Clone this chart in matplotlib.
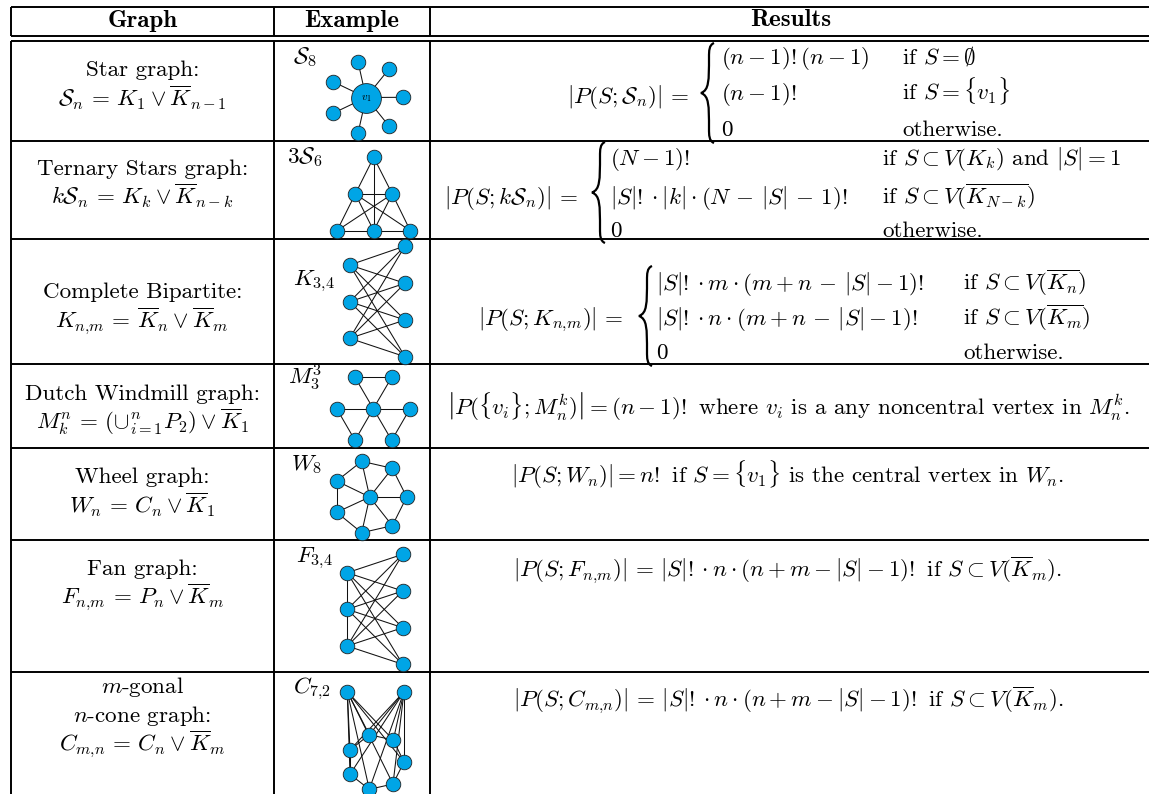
import matplotlib
matplotlib.use("Agg")
import matplotlib.pyplot as plt
from matplotlib.path import Path
from matplotlib.patches import PathPatch

plt.rcParams['mathtext.fontset'] = 'cm'
plt.rcParams['font.family'] = ['cmr10']
plt.rcParams['axes.unicode_minus'] = False

BLUE = '#00a5e6'
FS = 16.6

# Table text
headers = ['Graph', 'Example', 'Results']
header_x = [142.3, 352, 791]
graph_names = [
    ['Star graph:', r'$\mathcal{S}_n\,=\,K_1\vee\overline{K}_{n-1}$'],
    ['Ternary Stars graph:', r'$k\mathcal{S}_n\,=\,K_k\vee\overline{K}_{n-k}$'],
    ['Complete Bipartite:', r'$K_{n{,}m}\,=\,\overline{K}_n\vee\overline{K}_m$'],
    ['Dutch Windmill graph:', r'$M_k^n\,=\,(\cup_{i=1}^n P_2)\vee\overline{K}_1$'],
    ['Wheel graph:', r'$W_n\,=\,C_n\vee\overline{K}_1$'],
    ['Fan graph:', r'$F_{n{,}m}\,=\,P_n\vee\overline{K}_m$'],
    ['$m$-gonal', '$n$-cone graph:', r'$C_{m{,}n}\,=\,C_n\vee\overline{K}_m$'],
]
name_baselines = [[76, 106], [175, 204], [298, 328], [400, 429], [483, 513], [575, 604], [693, 722, 751]]
example_labels = [r'$\mathcal{S}_8$', r'$3\mathcal{S}_6$', r'$K_{3{,}4}$', r'$M_3^3$', r'$W_8$', r'$F_{3{,}4}$', r'$C_{7{,}2}$']
example_pos = [(293, 63), (287, 163), (293, 285), (288, 385), (291, 470), (296, 562), (293, 693)]

single_results = [
    (r'$\left|P(\{v_i\};M_n^k)\right|=(n-1)!$ where $v_i$ is a any noncentral vertex in $M_n^k$.', 415),
    (r'$|P(S;W_n)|=n!$ if $S=\{v_1\}$ is the central vertex in $W_n$.', 483),
    (r'$|P(S;F_{n{,}m})|\,=\,|S|!\cdot n\cdot(n+m-|S|-1)!$ if $S\subset V(\overline{K}_m)$.', 577),
    (r'$|P(S;C_{m{,}n})|\,=\,|S|!\cdot n\cdot(n+m-|S|-1)!$ if $S\subset V(\overline{K}_m)$.', 707),
]

cases_lhs = [r'$|P(S;\mathcal{S}_n)|\,=$', r'$|P(S;k\mathcal{S}_n)|\,=$', r'$|P(S;K_{n{,}m})|\,=$']
lhs_baselines = [103, 204, 325]
cases_left = [
    [r'$(n-1)!(n-1)$', r'$(n-1)!$', r'$0$'],
    [r'$(N-1)!$', r'$|S|!\cdot|k|\cdot(N\,-\,|S|\,-\,1)!$', r'$0$'],
    [r'$|S|!\cdot m\cdot(m+n\,-\,|S|-1)!$', r'$|S|!\cdot n\cdot(m+n\,-\,|S|-1)!$', r'$0$'],
]
cases_right = [
    [r'if $S=\emptyset$', r'if $S=\{v_1\}$', 'otherwise.'],
    [r'if $S\subset V(K_k)$ and $|S|=1$', r'if $S\subset V(\overline{K_{N-k}})$', 'otherwise.'],
    [r'if $S\subset V(\overline{K_n})$', r'if $S\subset V(\overline{K_m})$', 'otherwise.'],
]
cases_baselines = [[64, 100, 136], [165, 204, 237], [290, 325, 359]]
cases_x = [(567, 709, 721, 902), (444, 600, 610, 882), (478, 647, 656, 963)]
brace_spans = [(43, 143), (142, 243), (266, 366)]

# Table rules
h_rules = [7, 35.5, 41, 140.5, 238.5, 364, 448, 540, 672]
v_rules = [11, 273.7, 430]

star_nodes = [(366, 97.5), (358, 61.7), (389, 69), (403.3, 97.3), (389, 126), (358, 133.3), (333, 113.3), (333, 81.7)]
star_edges = [(0, i) for i in range(1, 8)]

ternary_nodes = [(373.7, 157.3), (355.3, 194), (392.3, 194), (337, 230.7), (373.7, 230.7), (410.3, 230.7)]
ternary_edges = [(0, 1), (0, 2), (0, 4), (1, 2), (1, 3), (1, 4), (1, 5), (2, 3), (2, 4), (2, 5), (3, 4), (4, 5)]

bip_nodes = [(349.7, 265), (349.7, 301.7), (349.7, 338.3), (405, 246), (405, 283.3), (405, 320), (405, 356.7)]
bip_edges = [(a, b) for a in range(3) for b in range(3, 7)]

mill_nodes = [(355, 377.3), (391.7, 377.3), (336.7, 408.7), (373.3, 408.7), (410, 408.7), (355, 440.3), (391.7, 440.3)]
mill_edges = [(0, 1), (0, 3), (1, 3), (2, 3), (3, 4), (2, 5), (3, 5), (3, 6), (4, 6)]

wheel_nodes = [(369.7, 497), (361.7, 461.3), (392.3, 468.3), (406.7, 497), (392.3, 525.7), (361.7, 532.7), (336.7, 512.3), (336.7, 481)]
wheel_edges = [(0, i) for i in range(1, 8)] + [(1, 2), (2, 3), (3, 4), (4, 5), (5, 6), (6, 7), (7, 1)]

fan_nodes = [(347.3, 572.7), (347.3, 609.3), (347.3, 646), (402.7, 554.3), (402.7, 591), (402.7, 627.7), (402.7, 664.3)]
fan_edges = [(0, 1), (1, 2)] + [(a, b) for a in range(3) for b in range(3, 7)]

cone_nodes = [(347.3, 691.7), (404, 691.7), (350, 750), (369.3, 734.7), (393.3, 740), (404, 762), (393, 784), (369.3, 789.3), (350, 774.3)]
cone_edges = [(2, 3), (3, 4), (4, 5), (5, 6), (6, 7), (7, 8), (8, 2)] + [(a, b) for a in range(2) for b in range(2, 9)]

graphs = [
    (star_nodes, star_edges),
    (ternary_nodes, ternary_edges),
    (bip_nodes, bip_edges),
    (mill_nodes, mill_edges),
    (wheel_nodes, wheel_edges),
    (fan_nodes, fan_edges),
    (cone_nodes, cone_edges),
]


def draw_graph(ax, nodes, edges):
    for a, b in edges:
        ax.plot([nodes[a][0], nodes[b][0]], [nodes[a][1], nodes[b][1]], color='#111111', lw=0.75, zorder=2)
    xs = [n[0] for n in nodes]
    ys = [n[1] for n in nodes]
    ax.scatter(xs, ys, s=110, color=BLUE, edgecolor='#222222', linewidth=0.6, zorder=3)


def draw_brace(ax, x, y0, y1):
    # left curly brace, tip pointing left
    mid = (y0 + y1) / 2
    verts = [(x + 5, y0), (x, y0 + 2), (x, y0 + 8), (x, y0 + 14),
             (x, mid - 12), (x, mid - 3), (x - 8, mid),
             (x, mid + 3), (x, mid + 12), (x, y1 - 14),
             (x, y1 - 8), (x, y1 - 2), (x + 5, y1)]
    codes = [Path.MOVETO] + [Path.CURVE4] * 12
    ax.add_patch(PathPatch(Path(verts, codes), fc='none', ec='black', lw=1.6, zorder=4))


fig = plt.figure(figsize=(11.49, 7.94), dpi=100)
ax = fig.add_axes([0, 0, 1, 1])
ax.set_xlim(0, 1149)
ax.set_ylim(794, 0)
ax.axis('off')

# rules
for y in h_rules:
    ax.plot([11, 1149], [y, y], color='black', lw=1.4, solid_capstyle='butt', zorder=1)
for x in v_rules:
    ax.plot([x, x], [7, 35.5], color='black', lw=1.4, solid_capstyle='butt', zorder=1)
    ax.plot([x, x], [41, 794], color='black', lw=1.4, solid_capstyle='butt', zorder=1)

# header
for head, x in zip(headers, header_x):
    ax.text(x, 26.5, head, family='cmb10', fontsize=18, ha='center', va='baseline')

# first column
for lines, ys in zip(graph_names, name_baselines):
    for line, y in zip(lines, ys):
        ax.text(142.3, y, line, fontsize=FS, ha='center', va='baseline')

# example column
for label, (x, y) in zip(example_labels, example_pos):
    ax.text(x, y, label, fontsize=FS, ha='left', va='baseline')
for nodes, edges in graphs:
    draw_graph(ax, nodes, edges)
ax.scatter([star_nodes[0][0]], [star_nodes[0][1]], s=460, color=BLUE, edgecolor='#222222', linewidth=0.6, zorder=4)
ax.text(star_nodes[0][0], star_nodes[0][1] + 2.5, r'$v_1$', fontsize=8, ha='center', va='baseline', zorder=5)

# piecewise results
for i in range(3):
    lhs_x, brace_x, left_x, right_x = cases_x[i]
    ys = cases_baselines[i]
    ax.text(lhs_x, lhs_baselines[i], cases_lhs[i], fontsize=FS, ha='left', va='baseline')
    draw_brace(ax, brace_x, brace_spans[i][0], brace_spans[i][1])
    for left, right, y in zip(cases_left[i], cases_right[i], ys):
        ax.text(left_x, y, left, fontsize=FS, ha='left', va='baseline')
        ax.text(right_x, y, right, fontsize=FS, ha='left', va='baseline')

# single line results
for txt, y in single_results:
    ax.text(788, y, txt, fontsize=FS, ha='center', va='baseline')

fig.savefig('out.png', dpi=100)
